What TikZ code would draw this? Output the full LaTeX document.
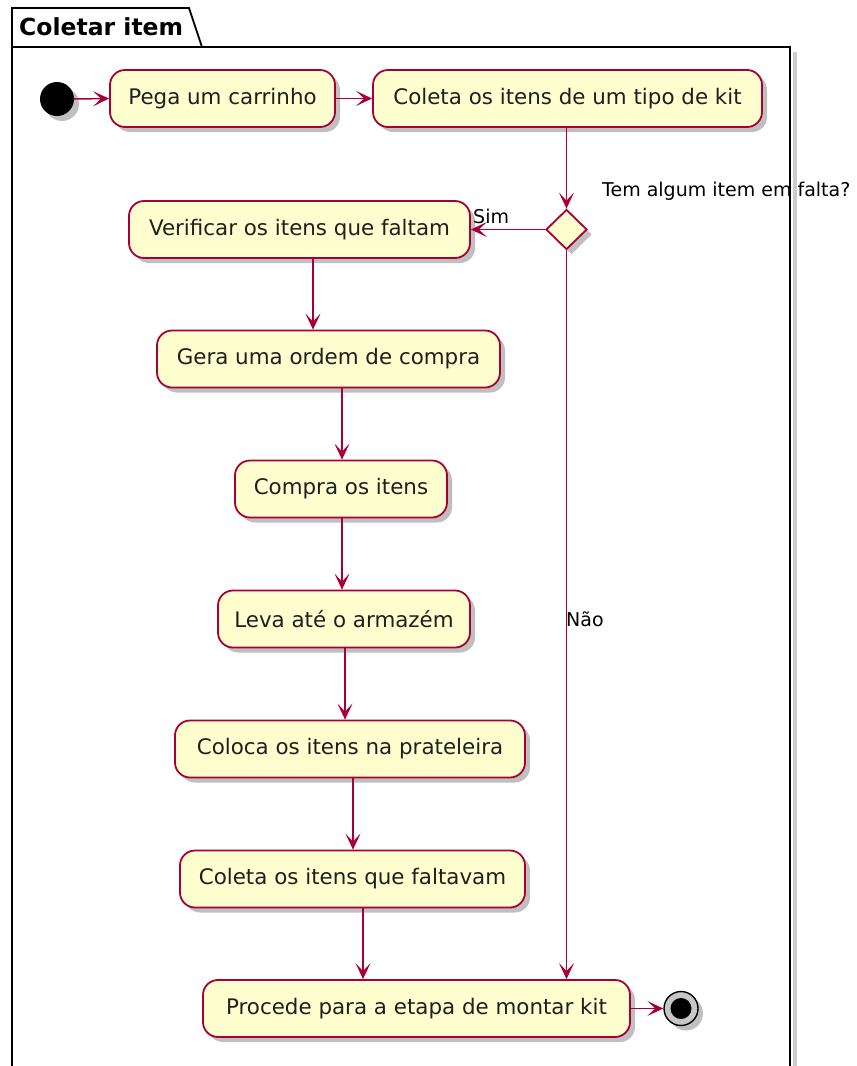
\documentclass[tikz,border=0pt]{standalone}
\usepackage{fontspec}
\setmainfont{DejaVu Sans}
\usetikzlibrary{arrows.meta,shadows,shapes.geometric}
\definecolor{pfill}{HTML}{FEFECE}
\definecolor{pline}{HTML}{A80036}
\tikzset{
  shad/.style={drop shadow={shadow xshift=5pt, shadow yshift=-5pt, opacity=0.25, fill=black}},
  act/.style={draw=pline, fill=pfill, line width=1.8pt, rounded corners=15pt,
    minimum height=57pt, inner sep=0pt, text=black!88,
    font=\fontsize{21.4}{25}\selectfont, shad},
  lbl/.style={inner sep=0pt, font=\fontsize{19}{22}\selectfont, text=black},
  arr/.style={draw=pline, line width=1.5pt, -{Stealth[length=16pt,width=15pt,inset=8pt]}},
  frameline/.style={line width=1.8pt, draw=black}
}
\begin{document}
\begin{tikzpicture}[x=1pt,y=-1pt]
\useasboundingbox (0,0) rectangle (857,1066);
% frame (package)
\draw[line width=4pt, draw=black!20] (795,52) -- (795,1070);
\draw[frameline] (12,1072) -- (12,8) -- (189,8) -- (202,47);
\draw[frameline] (12,47) -- (790,47) -- (790,1072);
\node[anchor=base west, inner sep=0pt, font=\fontsize{23.5}{27}\selectfont\bfseries] (title) at (19,35) {Coletar item};

% nodes
\node[circle, fill=black, minimum size=34pt, inner sep=0pt, shad] (start) at (57,99) {};
\node[act, minimum width=225pt] (pega) at (222.5,98.5) {Pega um carrinho};
\node[act, minimum width=389pt] (coleta) at (567.5,98.5) {Coleta os itens de um tipo de kit};
\node[diamond, draw=pline, fill=pfill, line width=1.8pt, minimum width=41pt, minimum height=40pt, inner sep=0pt, shad] (dia) at (566.5,229.5) {};
\node[act, minimum width=341pt] (verif) at (299.5,229.5) {Verificar os itens que faltam};
\node[act, minimum width=343pt] (gera) at (328.5,359) {Gera uma ordem de compra};
\node[act, minimum width=212pt] (compra) at (341,489) {Compra os itens};
\node[act, minimum width=252pt] (leva) at (344,619) {Leva até o armazém};
\node[act, minimum width=350pt] (coloca) at (350,749) {Coloca os itens na prateleira};
\node[act, minimum width=345pt] (coletaf) at (352.5,879) {Coleta os itens que faltavam};
\node[act, minimum width=427pt] (procede) at (416.5,1008.5) {Procede para a etapa de montar kit};
\node[circle, draw=black, line width=1.4pt, fill=black!22, minimum size=34pt, inner sep=0pt, shad] (endc) at (681,1008.5) {};
\node[circle, fill=black, minimum size=21pt, inner sep=0pt] (endi) at (endc) {};

% labels
\node[lbl, anchor=base west] (q) at (602,196) {Tem algum item em falta?};
\node[lbl, anchor=base west] (sim) at (473,223) {Sim};
\node[lbl, anchor=base west] (nao) at (566,626) {Não};

% coordinates for vertical connectors
\coordinate (xa) at (313,0);
\coordinate (xb) at (342,0);
\coordinate (xc) at (345,0);
\coordinate (xd) at (353,0);
\coordinate (xe) at (363,0);

% connectors
\draw[arr] (start.east) -- (pega.west);
\draw[arr] (pega.east) -- (coleta.west);
\draw[arr] (coleta.south -| dia.north) -- (dia.north);
\draw[arr] (dia.west) -- (verif.east |- dia.west);
\draw[arr] (dia.south) -- (procede.north -| dia.south);
\draw[arr] (verif.south -| xa) -- (gera.north -| xa);
\draw[arr] (gera.south -| xb) -- (compra.north -| xb);
\draw[arr] (compra.south -| xb) -- (leva.north -| xb);
\draw[arr] (leva.south -| xc) -- (coloca.north -| xc);
\draw[arr] (coloca.south -| xd) -- (coletaf.north -| xd);
\draw[arr] (coletaf.south -| xe) -- (procede.north -| xe);
\draw[arr] (procede.east) -- (endc.west);
\end{tikzpicture}
\end{document}
